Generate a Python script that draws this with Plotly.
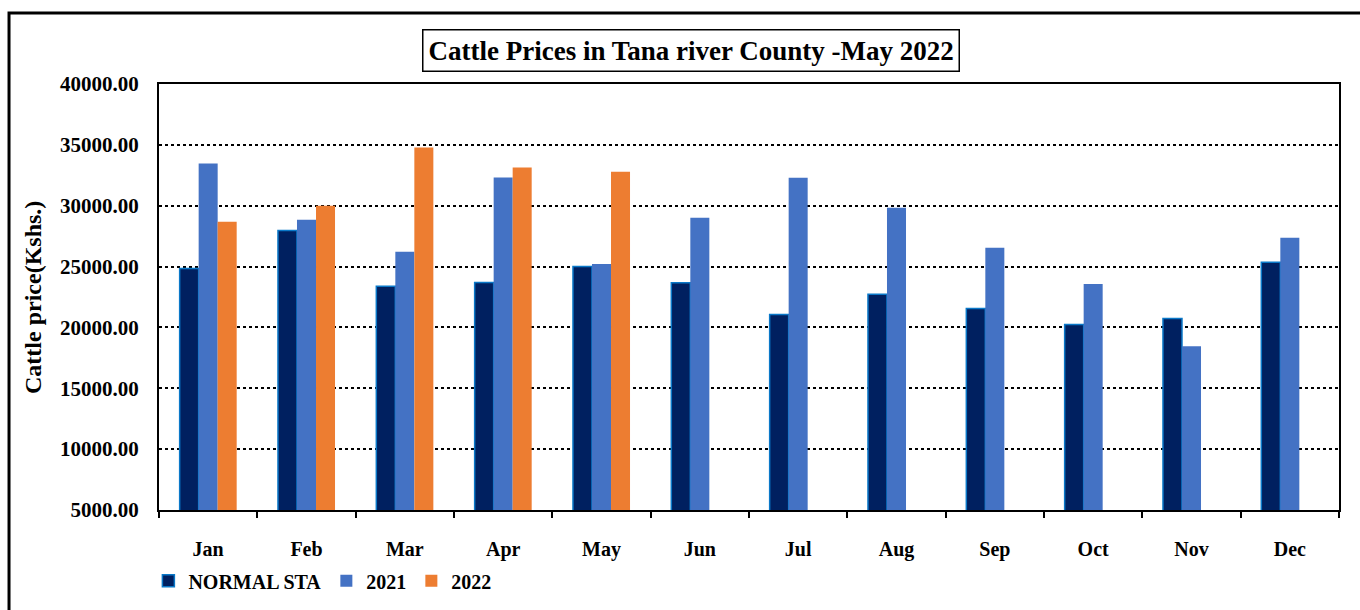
import plotly.graph_objects as go

months = ["Jan", "Feb", "Mar", "Apr", "May", "Jun", "Jul", "Aug", "Sep", "Oct", "Nov", "Dec"]
normal_sta = [24850, 27970, 23380, 23690, 25000, 23680, 21070, 22720, 21560, 20250, 20740, 25350]
y2021 = [33460, 28840, 26210, 32310, 25220, 29010, 32300, 29830, 26540, 23570, 18460, 27360]
y2022 = [28680, 30000, 34780, 33130, 32800, None, None, None, None, None, None, None]

FONT = "Liberation Serif"

fig = go.Figure()
fig.add_trace(go.Bar(x=months, y=normal_sta, name="NORMAL STA",
                     marker=dict(color="#002060", line=dict(color="#0A78C8", width=1.5))))
fig.add_trace(go.Bar(x=months, y=y2021, name="2021",
                     marker=dict(color="#4472C4", line=dict(width=0))))
fig.add_trace(go.Bar(x=months, y=y2022, name="2022",
                     marker=dict(color="#ED7D31", line=dict(width=0))))

fig.update_layout(
    width=1360, height=610,
    margin=dict(l=159, r=21, t=84, b=100, autoexpand=False),
    paper_bgcolor="white", plot_bgcolor="white",
    barmode="group", bargap=0.42, bargroupgap=0,
    font=dict(family=FONT, size=20, color="black"),
    showlegend=True,
    legend=dict(orientation="h", x=-0.009, xanchor="left",
                yref="container", y=0.08, yanchor="top",
                font=dict(family=FONT, size=20, color="black", weight="bold"),
                itemwidth=30, traceorder="normal", bgcolor="rgba(0,0,0,0)"),
    xaxis=dict(type="category", showline=True, linecolor="black", linewidth=2,
               mirror=True, ticks="outside", tickson="boundaries", ticklen=6,
               tickcolor="black", tickwidth=1.5, showgrid=False,
               ticklabelstandoff=20, automargin=False,
               tickfont=dict(family=FONT, size=20, color="black", weight="bold")),
    yaxis=dict(range=[5000, 40000], dtick=5000, tick0=5000, tickformat=".2f",
               showline=True, linecolor="black", linewidth=2, mirror=True,
               ticks="", showgrid=True, gridcolor="black", gridwidth=1.5,
               griddash="dot", zeroline=False, ticklabelstandoff=14, automargin=False,
               tickfont=dict(family=FONT, size=21, color="black", weight="bold")),
)

fig.add_annotation(text="Cattle Prices in Tana river County -May 2022",
                   xref="paper", yref="paper", x=0.4505, y=1.0798,
                   xanchor="center", yanchor="middle", showarrow=False,
                   font=dict(family=FONT, size=27, color="black", weight="bold"),
                   bordercolor="black", borderwidth=1.5, borderpad=5, bgcolor="white")

fig.add_annotation(text="Cattle price(Kshs.)", xref="paper", yref="paper",
                   x=-0.1068, y=0.5, textangle=-90, showarrow=False,
                   xanchor="center", yanchor="middle",
                   font=dict(family=FONT, size=24, color="black", weight="bold"))

fig.add_shape(type="rect", xref="paper", yref="paper",
              x0=-0.1271, x1=1.04, y0=-0.32, y1=1.1667,
              line=dict(color="black", width=3), fillcolor="rgba(0,0,0,0)", layer="above")

fig.write_html("out.html")
